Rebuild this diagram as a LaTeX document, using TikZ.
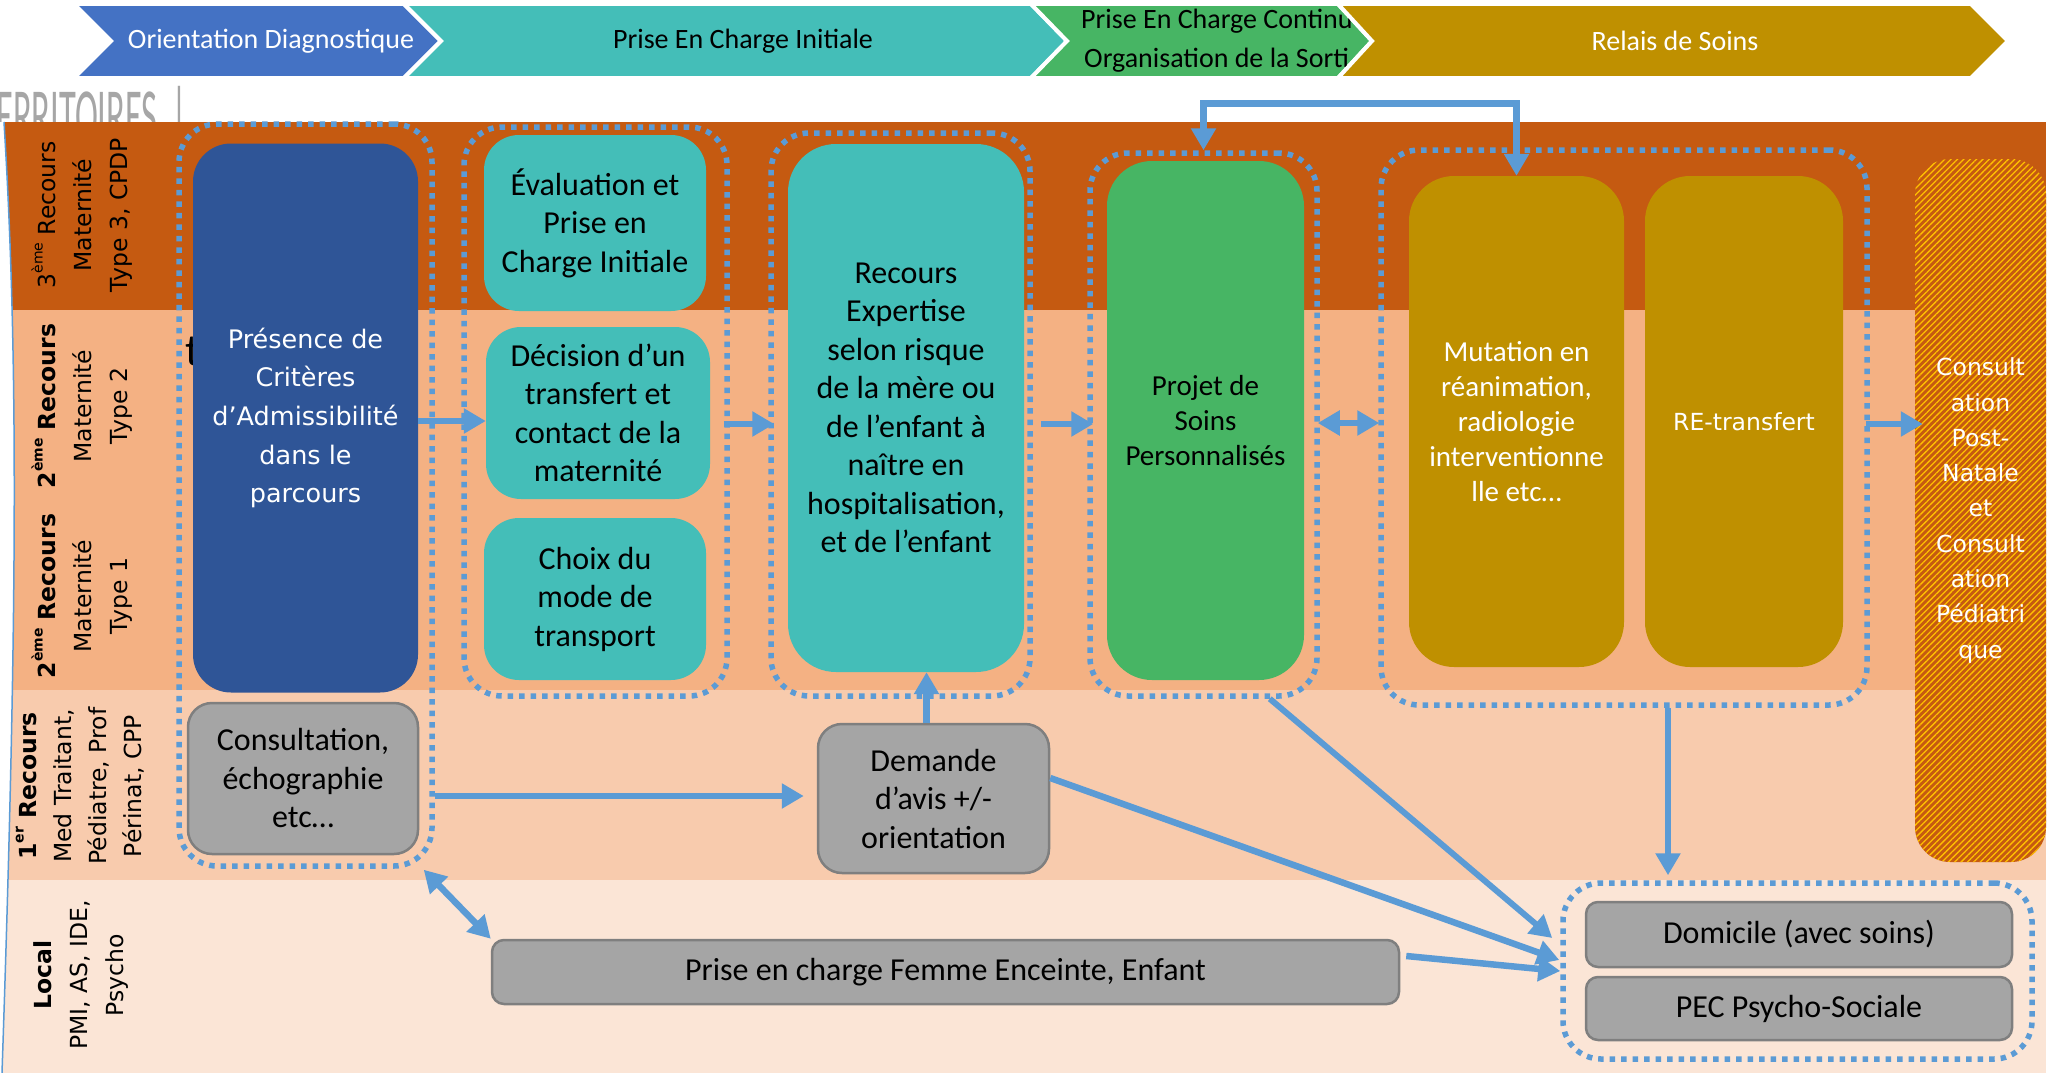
\documentclass[tikz,border=0pt]{standalone}
\usepackage{fontspec}
\setmainfont{Carlito}
\newfontfamily\verd{DejaVu Sans}
\usetikzlibrary{arrows.meta,calc,patterns.meta}
\definecolor{bandD}{HTML}{C55A11}
\definecolor{bandB}{HTML}{F4B183}
\definecolor{bandC}{HTML}{F8CBAD}
\definecolor{bandE}{HTML}{FBE5D6}
\definecolor{chblue}{HTML}{4472C4}
\definecolor{tealc}{HTML}{44BEB8}
\definecolor{greenc}{HTML}{47B564}
\definecolor{goldc}{HTML}{BF9000}
\definecolor{navyc}{HTML}{2F5597}
\definecolor{grayc}{HTML}{A5A5A5}
\definecolor{grayl}{HTML}{7F7F7F}
\definecolor{ablue}{HTML}{5B9BD5}
\definecolor{hatchy}{HTML}{FFC000}
\newcommand{\supx}[1]{\raisebox{0.55em}{\fontsize{14}{14}\selectfont #1}}
\begin{document}
\begin{tikzpicture}[x=1pt,y=-1pt,
  tbox/.style={rectangle, rounded corners=35pt, fill=tealc, inner sep=0pt, align=center, text=black, font=\fontsize{32}{38.5}\selectfont},
  gbox/.style={rectangle, rounded corners=24pt, fill=grayc, draw=grayl, line width=2.5pt, inner sep=0pt, align=center, text=black, font=\fontsize{32}{38.5}\selectfont},
  flatbox/.style={gbox, rounded corners=12pt},
  grp/.style={rectangle, rounded corners=38pt, draw=ablue, line width=5.5pt, dash pattern=on 5.5pt off 6pt, inner sep=0pt},
  arr/.style={draw=ablue, line width=6.5pt, -{Triangle[length=22pt,width=24pt]}},
  darr/.style={draw=ablue, line width=6.5pt, {Triangle[length=22pt,width=24pt]}-{Triangle[length=22pt,width=24pt]}},
  rowlab/.style={rotate=90, align=center, inner sep=0pt, text=black, font=\verd\fontsize{23.5}{36}\selectfont},
  chev/.style={draw=white, line width=4pt, line join=miter},
  chtxt/.style={font=\fontsize{28}{28}\selectfont, inner sep=0pt}
]
\useasboundingbox (0,0) rectangle (2050,1073);
\fill[white] (0,0) rectangle (2050,1073);

% remnant title
\node[anchor=north west, inner sep=0pt, text=gray!70, font=\fontsize{75}{75}\selectfont] (terr) at (-4,86) {\scalebox{0.46}[1]{ERRITOIRES\hspace{30pt}|}};

% bands
\fill[bandD] (0,122) rectangle (2046,310);
\fill[bandB] (0,310) rectangle (2046,690);
\fill[bandC] (0,690) rectangle (2046,880);
\fill[bandE] (0,880) rectangle (2046,1073);
\fill[white] (0,122) -- (4,122) .. controls (18,350) and (18,600) .. (2,1073) -- (0,1073) -- cycle;
\draw[ablue, line width=1.5pt] (4,122) .. controls (18,350) and (18,600) .. (2,1073);

% chevrons
\path[fill=chblue, chev] (74,4) -- (404,4) -- (441,41) -- (404,78) -- (74,78) -- (111,41) -- cycle;
\node[chtxt, text=white] (c1) at (271,41) {Orientation Diagnostique};
\path[fill=tealc, chev] (404,4) -- (1031,4) -- (1067,41) -- (1031,78) -- (404,78) -- (441,41) -- cycle;
\node[chtxt, text=black] (c2) at (743,41) {Prise En Charge Initiale};
\path[fill=greenc, chev] (1031,4) -- (1338,4) -- (1372,41) -- (1338,78) -- (1031,78) -- (1067,41) -- cycle;
\node[chtxt, anchor=west, text=black] (c3a) at (1081,21) {Prise En Charge Continu};
\node[chtxt, anchor=west, text=black] (c3b) at (1084,60) {Organisation de la Sorti};
\path[fill=goldc, chev] (1338,4) -- (1971,4) -- (2008,41) -- (1971,78) -- (1338,78) -- (1372,41) -- cycle;
\node[chtxt, text=white] (c4) at (1675,41) {Relais de Soins};

% row labels
\node[rowlab] (l3) at (82,215) {3\supx{ème} Recours\\Maternité\\Type 3, CPDP};
\node[rowlab] (l2a) at (82,406) {\textbf{2\supx{ème} Recours}\\Maternité\\Type 2};
\node[rowlab] (l2b) at (82,596) {\textbf{2\supx{ème} Recours}\\Maternité\\Type 1};
\node[rowlab, font=\verd\fontsize{23.5}{35}\selectfont] (l1) at (80,786) {\textbf{1\supx{er} Recours}\\Med Traitant,\\Pédiatre, Prof\\Périnat, CPP};
\node[rowlab] (l0) at (81,975) {\textbf{Local}\\PMI, AS, IDE,\\Psycho};

% text fragment behind blue box
\node[anchor=base west, inner sep=0pt, text=black, font=\fontsize{45}{45}\selectfont] (tfrag) at (185,365) {t};

% dotted groups
\node[grp, minimum width=253pt, minimum height=742pt] (g1) at (305.5,495) {};
\node[grp, minimum width=263pt, minimum height=569pt] (g2) at (595.5,411.5) {};
\node[grp, minimum width=259pt, minimum height=563pt] (g3) at (900.5,414.5) {};
\node[grp, minimum width=227pt, minimum height=543pt] (g4) at (1203.5,424.5) {};
\node[grp, minimum width=486pt, minimum height=555pt] (g5) at (1624,427.5) {};
\node[grp, minimum width=469pt, minimum height=176pt] (g6) at (1797.5,971) {};

% boxes
\node[rectangle, rounded corners=38pt, fill=navyc, minimum width=225pt, minimum height=549pt, inner sep=0pt, align=center, text=white, font=\verd\fontsize{25.5}{38.6}\selectfont] (pres) at (305.5,418) {Présence de\\Critères\\d’Admissibilité\\dans le\\parcours};
\node[gbox, minimum width=230pt, minimum height=151pt] (cons) at (303,778.5) {Consultation,\\échographie\\etc…};
\node[tbox, minimum width=222pt, minimum height=176pt] (eval) at (595,223) {Évaluation et\\Prise en\\Charge Initiale};
\node[tbox, minimum width=224pt, minimum height=172pt] (deci) at (598,413) {Décision d’un\\transfert et\\contact de la\\maternité};
\node[tbox, minimum width=222pt, minimum height=162pt] (choix) at (595,599) {Choix du\\mode de\\transport};
\node[tbox, rounded corners=48pt, minimum width=236pt, minimum height=528pt] (recx) at (906,408) {Recours\\Expertise\\selon risque\\de la mère ou\\de l’enfant à\\naître en\\hospitalisation,\\et de l’enfant};
\node[tbox, fill=greenc, rounded corners=45pt, minimum width=197pt, minimum height=519pt, font=\fontsize{29}{35}\selectfont] (proj) at (1205.5,420.5) {Projet de\\Soins\\Personnalisés};
\node[tbox, fill=goldc, text=white, rounded corners=45pt, minimum width=215pt, minimum height=491pt, font=\fontsize{29}{35}\selectfont] (mut) at (1516.5,421.5) {Mutation en\\réanimation,\\radiologie\\interventionne\\lle etc…};
\node[tbox, fill=goldc, text=white, rounded corners=45pt, minimum width=198pt, minimum height=491pt, font=\verd\fontsize{23.5}{35}\selectfont] (retr) at (1744,421.5) {RE-transfert};
\node[rectangle, rounded corners=35pt, fill=bandD, postaction={pattern={Lines[angle=45,distance=4.5pt,line width=1.3pt]}, pattern color=hatchy}, minimum width=131pt, minimum height=703pt, inner sep=0pt, align=center, text=white, font=\verd\fontsize{23.5}{35.3}\selectfont] (cpn) at (1980.5,510.5) {Consult\\ation\\Post-\\Natale\\et\\Consult\\ation\\Pédiatri\\que};
\node[gbox, minimum width=231pt, minimum height=149pt] (dem) at (933.5,798.5) {Demande\\d’avis +/-\\orientation};
\node[flatbox, minimum width=907pt, minimum height=64pt] (pec) at (945.5,972) {Prise en charge Femme Enceinte, Enfant};
\node[flatbox, minimum width=426pt, minimum height=65pt] (dom) at (1799,934.5) {Domicile (avec soins)};
\node[flatbox, minimum width=426pt, minimum height=63pt] (psy) at (1799,1008.5) {PEC Psycho-Sociale};

% connectors
\coordinate (vx) at (1668,0);
\draw[arr] (pres.east |- 0,421) -- (deci.west |- 0,421);
\draw[arr] ($(g2.east |- 0,424)+(-6,0)$) -- ($(g3.west |- 0,424)+(6,0)$);
\draw[arr] ($(g3.east |- 0,424)+(8,0)$) -- ($(g4.west |- 0,424)+(6,0)$);
\draw[darr] ($(g4.east |- 0,423)+(-2,0)$) -- ($(g5.west |- 0,423)+(1,0)$);
\draw[arr] ($(g5.east |- 0,424)+(-4,0)$) -- ($(cpn.west |- 0,424)+(8,0)$);
\draw[darr, line width=7pt] (g4.north) -- (g4.north |- 0,103) -- (mut.north |- 0,103) -- (mut.north);
\draw[arr] ($(dem.north)+(-7,0)$) -- ($(recx.south -| dem.north)+(-7,0)$);
\draw[arr] (g1.east |- 0,796) -- ($(dem.west |- 0,796)+(-13,0)$);
\draw[darr] ($(g1.south east)+(-11,1)$) -- (pec.north west);
\draw[arr, line width=6pt] ($(g4.south)!0.57!(g4.south east)$) -- ($(g6.west)+(-8,-33)$);
\draw[arr] ($(dem.east |- 0,778)$) -- ($(g6.west)+(-1,-11)$);
\draw[arr] ($(pec.east)+(6,-16)$) -- (g6.west);
\draw[arr] (g5.south -| vx) -- ($(g6.north -| vx)+(0,-5)$);
\end{tikzpicture}
\end{document}
